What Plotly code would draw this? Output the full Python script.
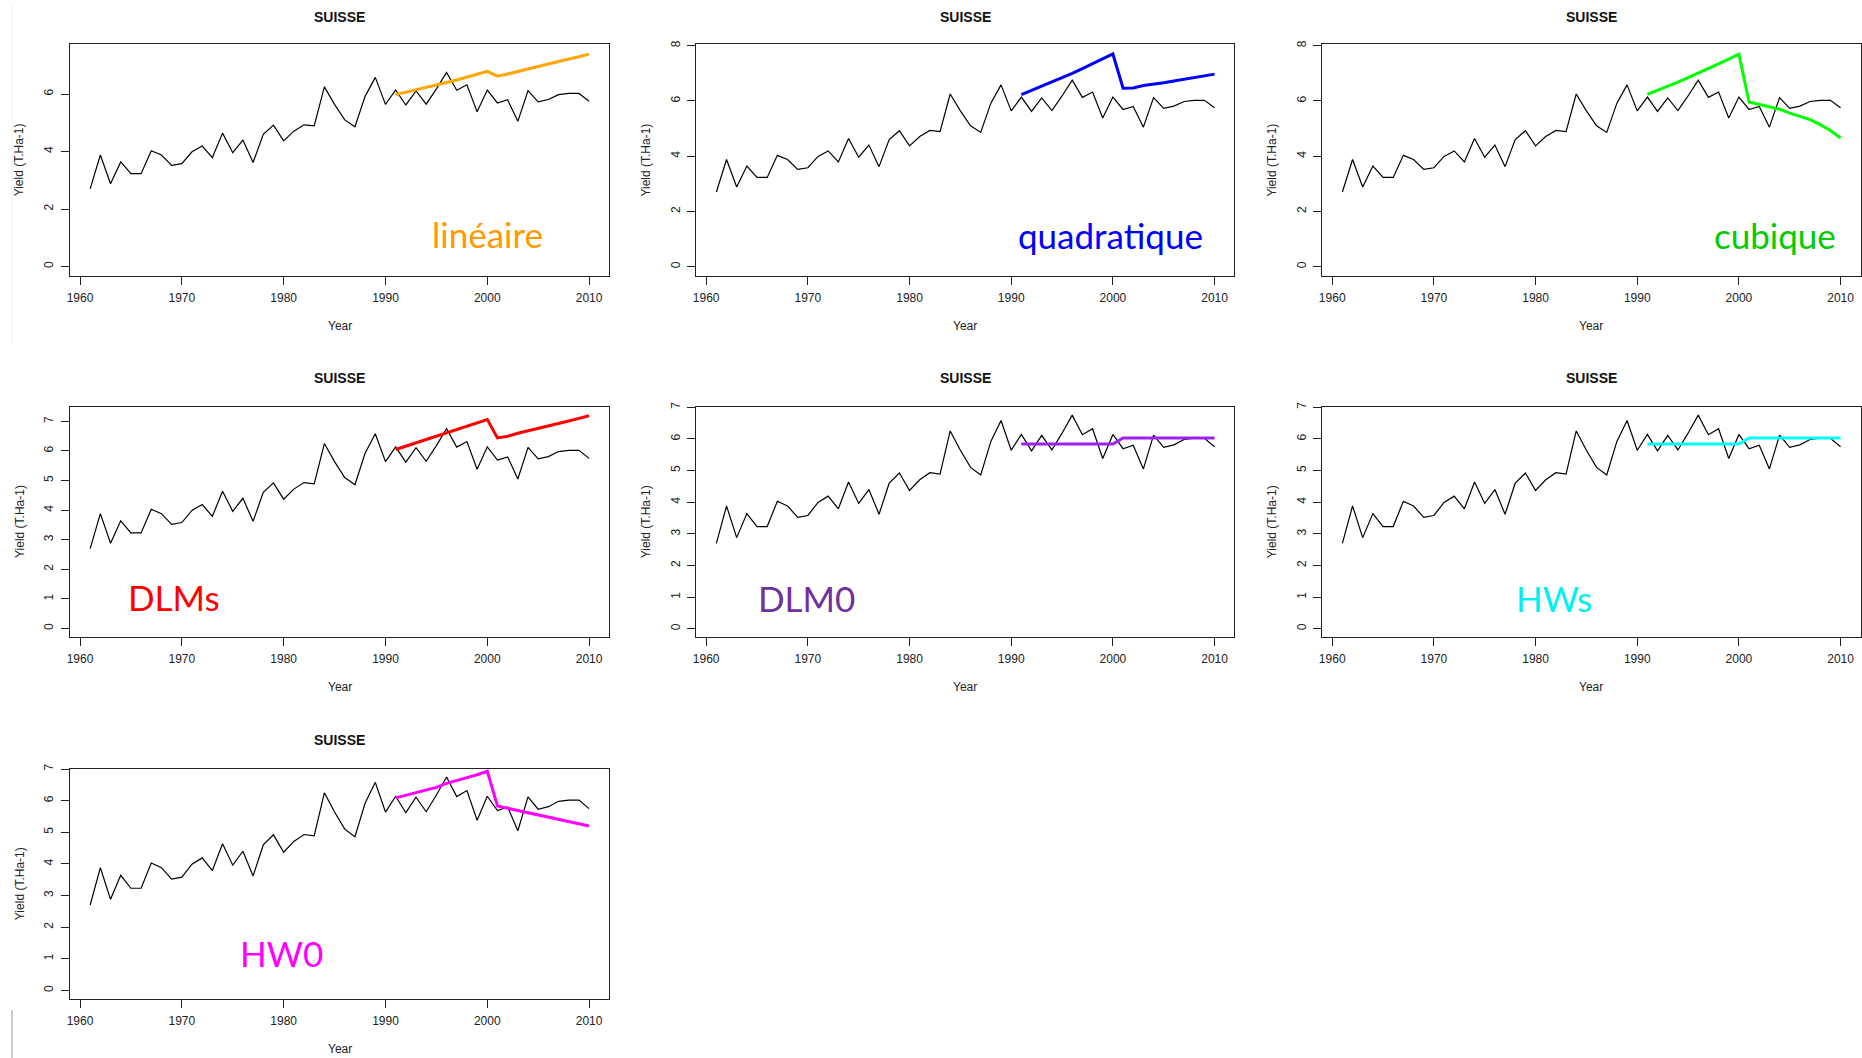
import plotly.graph_objects as go

# ---- data -------------------------------------------------------------
years = list(range(1961, 2011))
yield_obs = [2.70, 3.88, 2.88, 3.64, 3.23, 3.23, 4.03, 3.88, 3.52, 3.58,
             3.99, 4.19, 3.79, 4.64, 3.96, 4.40, 3.62, 4.60, 4.92, 4.37,
             4.71, 4.93, 4.89, 6.25, 5.64, 5.10, 4.86, 5.92, 6.58, 5.64,
             6.14, 5.62, 6.11, 5.65, 6.18, 6.75, 6.13, 6.32, 5.38, 6.14,
             5.69, 5.80, 5.05, 6.12, 5.73, 5.81, 5.98, 6.02, 6.02, 5.75]

years_fc = list(range(1991, 2011))
fc_lineaire = [5.98, 6.06, 6.15, 6.23, 6.31, 6.40, 6.49, 6.58, 6.69, 6.79,
               6.62, 6.70, 6.79, 6.88, 6.96, 7.05, 7.13, 7.22, 7.30, 7.39]
fc_quadratique = [6.23, 6.38, 6.53, 6.68, 6.84, 7.00, 7.17, 7.34, 7.51, 7.70,
                  6.46, 6.47, 6.56, 6.60, 6.66, 6.72, 6.78, 6.84, 6.92, 6.97]
fc_cubique = [6.24, 6.38, 6.53, 6.68, 6.84, 7.00, 7.17, 7.34, 7.51, 7.69,
              5.96, 5.88, 5.80, 5.70, 5.56, 5.44, 5.32, 5.14, 4.93, 4.66]
fc_dlms = [6.05, 6.16, 6.27, 6.39, 6.50, 6.61, 6.72, 6.84, 6.95, 7.06,
           6.44, 6.50, 6.60, 6.68, 6.75, 6.83, 6.93, 7.01, 7.10, 7.19]
fc_dlm0 = [5.84] * 10 + [6.03] * 10
fc_hws = [5.84] * 10 + [6.03] * 10
fc_hw0 = [6.09, 6.17, 6.26, 6.35, 6.42, 6.55, 6.65, 6.73, 6.82, 6.93,
          5.83, 5.76, 5.69, 5.62, 5.56, 5.49, 5.42, 5.35, 5.27, 5.20]

method_names = ["linéaire", "quadratique", "cubique", "DLMs", "DLM0", "HWs", "HW0"]
forecasts = [fc_lineaire, fc_quadratique, fc_cubique, fc_dlms, fc_dlm0, fc_hws, fc_hw0]
line_colors = ["#FFA500", "#0000FF", "#00FF00", "#FF0000", "#A020F0", "#00FFFF", "#FF00FF"]
label_colors = ["#FF9900", "#0000FF", "#00CC00", "#FF0000", "#7030A0", "#00F0F0", "#FF00FF"]

country = "SUISSE"
x_title = "Year"
y_title = "Yield (T.Ha-1)"

# ---- layout geometry (pixels) ------------------------------------------
W, H = 1862, 1058
col_x = [(66.4, 606.7), (694.3, 1233.8), (1322.0, 1861.5)]
row_y = [(39.5, 272.0), (403.5, 634.7), (767.7, 998.3)]
title_gap = [27, 28.5, 29]
panel_cells = [(0, 0), (0, 1), (0, 2), (1, 0), (1, 1), (1, 2), (2, 0)]
y_ranges = [(-0.32, 7.73), (-0.33, 8.05), (-0.33, 8.05), (-0.28, 7.50),
            (-0.25, 7.02), (-0.25, 7.02), (-0.26, 7.00)]
y_dticks = [2, 2, 2, 1, 1, 1, 1]
# label placement: (x px, y px) of the text centre
label_pos = [(485, 230), (1109, 231), (1776, 231), (170, 595), (805, 596),
             (1554, 596), (278, 953)]

x_range = [1959.04, 2011.96]
axis_font = dict(family="Liberation Sans, Arial, sans-serif", size=12, color="#222")

fig = go.Figure()
layout = dict(width=W, height=H, margin=dict(l=0, r=0, t=0, b=0),
              paper_bgcolor="white", plot_bgcolor="white", showlegend=False)
annotations = []

for i, (r, c) in enumerate(panel_cells):
    k = "" if i == 0 else str(i + 1)
    x0, x1 = col_x[c]
    y0, y1 = row_y[r]
    fig.add_trace(go.Scatter(x=years, y=yield_obs, mode="lines",
                             line=dict(color="black", width=1.2),
                             xaxis="x" + k, yaxis="y" + k, hoverinfo="skip"))
    fig.add_trace(go.Scatter(x=years_fc, y=forecasts[i], mode="lines",
                             line=dict(color=line_colors[i], width=3),
                             xaxis="x" + k, yaxis="y" + k, hoverinfo="skip"))
    common = dict(showgrid=False, zeroline=False, showline=True, mirror=True,
                  linecolor="#222", linewidth=1.2, ticks="outside", ticklen=8,
                  tickcolor="#222", tickwidth=1, tickfont=axis_font,
                  ticklabelstandoff=3)
    layout["xaxis" + k] = dict(common, domain=[x0 / W, x1 / W], range=x_range,
                               tickmode="linear", tick0=1960, dtick=10,
                               anchor="y" + k)
    layout["yaxis" + k] = dict(common, domain=[1 - y1 / H, 1 - y0 / H],
                               range=list(y_ranges[i]), tickmode="linear",
                               tick0=0, dtick=y_dticks[i], tickangle=-90,
                               anchor="x" + k)
    cx = (x0 + x1) / 2
    # panel title
    annotations.append(dict(x=cx / W, y=1 - (y0 - title_gap[r]) / H,
                            xref="paper", yref="paper",
                            text="<b>" + country + "</b>", showarrow=False,
                            font=dict(family="Liberation Sans, Arial, sans-serif",
                                      size=14, color="#111"),
                            xanchor="center", yanchor="middle"))
    # x axis title
    annotations.append(dict(x=cx / W, y=1 - (y1 + 51) / H, xref="paper", yref="paper",
                            text=x_title, showarrow=False, font=axis_font,
                            xanchor="center", yanchor="middle"))
    # y axis title
    annotations.append(dict(x=(x0 - 51) / W, y=1 - ((y0 + y1) / 2) / H,
                            xref="paper", yref="paper", text=y_title,
                            showarrow=False, textangle=-90,
                            font=dict(family="Liberation Sans, Arial, sans-serif",
                                      size=12, color="#222"),
                            xanchor="center", yanchor="middle"))
    # method label
    lx, ly = label_pos[i]
    annotations.append(dict(x=lx / W, y=1 - ly / H, xref="paper", yref="paper",
                            text=method_names[i], showarrow=False,
                            font=dict(family="Lato, sans-serif", size=35,
                                      color=label_colors[i]),
                            xanchor="center", yanchor="middle"))

layout["annotations"] = annotations
layout["shapes"] = [
    dict(type="line", xref="paper", yref="paper", x0=8 / W, x1=8 / W,
         y0=0, y1=1 - 1010 / H, line=dict(color="#999", width=1)),
    dict(type="line", xref="paper", yref="paper", x0=8 / W, x1=8 / W,
         y0=1 - 340 / H, y1=1, line=dict(color="#eef3ee", width=1)),
]
fig.update_layout(**layout)
fig.write_html("out.html")
